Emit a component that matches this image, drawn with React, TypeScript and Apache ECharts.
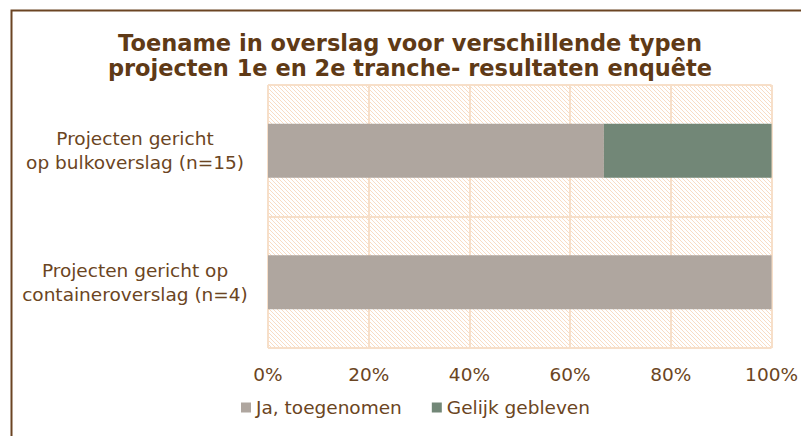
import React, { useEffect, useRef } from "react";
import * as echarts from "echarts";

const categories = [
  "Projecten gericht\nop bulkoverslag (n=15)",
  "Projecten gericht op\ncontaineroverslag (n=4)",
];
const seriesNames = ["Ja, toegenomen", "Gelijk gebleven"];
const jaValues = [66.7, 100];
const gelijkValues = [33.3, 0];
const tickValues = { min: 0, max: 100, interval: 20 };

const TEXT = "#6b4522";
const TITLE = "#5f3a16";
const GRID = "#f7dfc9";

function makeHatch(): HTMLCanvasElement {
  const c = document.createElement("canvas");
  c.width = 4;
  c.height = 4;
  const ctx = c.getContext("2d")!;
  ctx.fillStyle = "#ffffff";
  ctx.fillRect(0, 0, 4, 4);
  ctx.fillStyle = "#f8dcc4";
  for (let i = 0; i < 4; i++) ctx.fillRect(i, i, 1, 1);
  return c;
}

export default function App() {
  const ref = useRef<HTMLDivElement>(null);
  useEffect(() => {
    if (!ref.current) return;
    const chart = echarts.init(ref.current, null, { renderer: "svg" });
    const font = "'DejaVu Sans', Verdana, sans-serif";
    const fs = 18.5;
    chart.setOption({
      animation: false,
      backgroundColor: "#ffffff",
      textStyle: { fontFamily: font },
      title: {
        text: "Toename in overslag voor verschillende typen\nprojecten 1e en 2e tranche- resultaten enquête",
        left: 410,
        textAlign: "center",
        top: 30,
        padding: 0,
        textStyle: {
          fontFamily: font,
          fontSize: 22.5,
          fontWeight: "bold",
          color: TITLE,
          lineHeight: 25,
        },
      },
      graphic: [
        {
          type: "rect",
          left: 9,
          top: 8,
          shape: { width: 900, height: 600 },
          style: { fill: "none", stroke: "#6b4423", lineWidth: 2 },
          silent: true,
        },
      ],
      legend: {
        left: 236,
        top: 393,
        itemWidth: 10,
        itemHeight: 10,
        itemGap: 30,
        icon: "rect",
        textStyle: { fontFamily: font, fontSize: fs, color: TEXT },
        data: seriesNames,
      },
      grid: {
        left: 268,
        right: 29,
        top: 85,
        bottom: 88,
        show: true,
        borderWidth: 0,
        backgroundColor: { image: makeHatch(), repeat: "repeat" },
      },
      xAxis: {
        type: "value",
        min: tickValues.min,
        max: tickValues.max,
        interval: tickValues.interval,
        axisLine: { show: false },
        axisTick: { show: false },
        axisLabel: {
          formatter: "{value}%",
          fontFamily: font,
          fontSize: fs,
          color: TEXT,
          margin: 17,
        },
        splitLine: { show: true, lineStyle: { color: GRID, width: 2 } },
      },
      yAxis: {
        type: "category",
        inverse: true,
        data: categories,
        axisLine: { show: false },
        axisTick: { show: false },
        axisLabel: {
          fontFamily: font,
          fontSize: fs,
          color: TEXT,
          lineHeight: 24,
          align: "center",
          margin: 133,
          padding: [8, 0, 0, 0],
        },
        splitLine: { show: true, lineStyle: { color: GRID, width: 2 } },
      },
      series: [
        {
          name: seriesNames[0],
          type: "bar",
          stack: "total",
          barWidth: "41%",
          itemStyle: { color: "#afa69f" },
          data: jaValues,
        },
        {
          name: seriesNames[1],
          type: "bar",
          stack: "total",
          barWidth: "41%",
          itemStyle: { color: "#728777" },
          data: gelijkValues,
        },
      ],
    });
    return () => chart.dispose();
  }, []);
  return (
    <div
      ref={ref}
      style={{ position: "absolute", left: 0, top: 0, width: 801, height: 436 }}
    />
  );
}
